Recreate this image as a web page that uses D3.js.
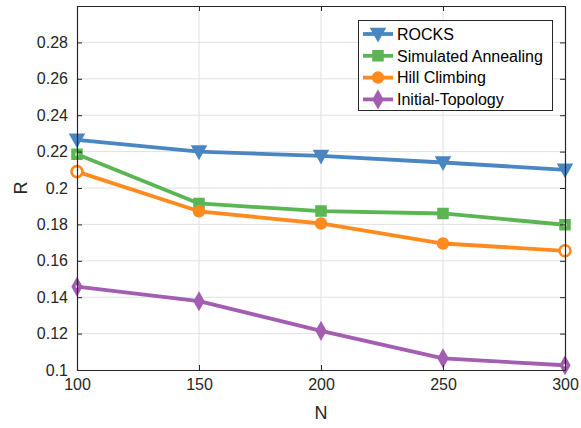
<!DOCTYPE html>
<html>
<head>
<meta charset="utf-8">
<script src="https://cdn.jsdelivr.net/npm/d3@7"></script>
<style>
  html, body { margin: 0; padding: 0; background: #fff; }
  svg { display: block; font-family: "Liberation Sans", Arial, sans-serif; }
</style>
</head>
<body>
<svg id="chart" width="581" height="428"></svg>
<script>
// N values on the x axis
const nValues = [100, 150, 200, 250, 300];

// R for each method
const rocks = [0.2265, 0.2200, 0.2176, 0.2140, 0.2100];
const simulatedAnnealing = [0.2185, 0.1915, 0.1873, 0.1860, 0.1798];
const hillClimbing = [0.2090, 0.1872, 0.1805, 0.1695, 0.1655];
const initialTopology = [0.1458, 0.1378, 0.1215, 0.1064, 0.1026];

const seriesNames = ["ROCKS", "Simulated Annealing", "Hill Climbing", "Initial-Topology"];
const xTicks = [100, 150, 200, 250, 300];
const yTicks = [0.1, 0.12, 0.14, 0.16, 0.18, 0.2, 0.22, 0.24, 0.26, 0.28];

const series = [
  { name: seriesNames[0], values: rocks, color: "#4a86c1", marker: "triangleDown" },
  { name: seriesNames[1], values: simulatedAnnealing, color: "#5bb553", marker: "square" },
  { name: seriesNames[2], values: hillClimbing, color: "#ff8a1e", marker: "circle" },
  { name: seriesNames[3], values: initialTopology, color: "#a35db1", marker: "diamond" }
];

const svg = d3.select("#chart");
const plotLeft = 77, plotRight = 565, plotTop = 6, plotBottom = 370;

const x = d3.scaleLinear().domain([100, 300]).range([plotLeft, plotRight]);
const y = d3.scaleLinear().domain([0.1, 0.3]).range([plotBottom, plotTop]);

// grid
const grid = svg.append("g");
grid.selectAll("line.gx").data(xTicks.slice(1, -1)).join("line")
  .attr("x1", d => x(d)).attr("x2", d => x(d))
  .attr("y1", plotTop).attr("y2", plotBottom)
  .attr("stroke", "#e1e1e1").attr("stroke-width", 1);
grid.selectAll("line.gy").data(yTicks.slice(1)).join("line")
  .attr("x1", plotLeft).attr("x2", plotRight)
  .attr("y1", d => y(d)).attr("y2", d => y(d))
  .attr("stroke", "#e1e1e1").attr("stroke-width", 1);

// markers
function markerPath(type) {
  switch (type) {
    case "triangleDown": return "M-7,-5.5L7,-5.5L0,7Z";
    case "square": return "M-5,-5L5,-5L5,5L-5,5Z";
    case "circle": return d3.symbol(d3.symbolCircle, 95)();
    case "diamond": return "M0,-8.5L4.8,0L0,8.5L-4.8,0Z";
  }
}

const line = d3.line().x((d, i) => x(nValues[i])).y(d => y(d));

series.forEach(s => {
  const g = svg.append("g");
  g.append("path").datum(s.values).attr("d", line)
    .attr("fill", "none").attr("stroke", s.color).attr("stroke-width", 3.8)
    .attr("stroke-linejoin", "round");
  const last = s.values.length - 1;
  const isEdge = i => i === 0 || i === last;
  g.selectAll("path.m").data(s.values).join("path").attr("class", "m")
    .attr("d", markerPath(s.marker))
    .attr("transform", (d, i) => `translate(${x(nValues[i])},${y(d)})`)
    .attr("fill", (d, i) => (s.marker === "circle" && isEdge(i)) ? "#fff" : s.color)
    .attr("stroke", s.color)
    .attr("stroke-width", (d, i) => (s.marker === "circle" && isEdge(i)) ? 2.6 : 1.5);
  // markers sitting on the axis box show a light centre
  if (s.marker === "square" || s.marker === "diamond") {
    g.selectAll("circle.c").data(s.values.filter((d, i) => isEdge(i))).join("circle")
      .attr("class", "c")
      .attr("cx", d => x(nValues[s.values.indexOf(d)]))
      .attr("cy", d => y(d))
      .attr("r", s.marker === "square" ? 2 : 1.4)
      .attr("fill", s.marker === "square" ? "#b9dfb5" : "#f4ecf6");
  }
});

// axes (ticks pointing inward, box on all four sides), drawn above the data
const tickLen = 5;
const axisColor = "#262626";
function styleAxis(g) {
  g.select(".domain").attr("stroke", axisColor).attr("stroke-width", 1.2);
  g.selectAll(".tick line").attr("stroke", axisColor).attr("stroke-width", 1);
  g.selectAll(".tick text").attr("fill", "#262626").attr("font-size", 16)
    .attr("font-family", "Liberation Sans, Arial, sans-serif");
}

const xAxis = svg.append("g").attr("transform", `translate(0,${plotBottom})`)
  .call(d3.axisBottom(x).tickValues(xTicks).tickSize(-tickLen).tickSizeOuter(0).tickPadding(9).tickFormat(d3.format("d")));
styleAxis(xAxis);

const xAxisTop = svg.append("g").attr("transform", `translate(0,${plotTop})`)
  .call(d3.axisTop(x).tickValues(xTicks).tickSize(-tickLen).tickSizeOuter(0).tickFormat(""));
styleAxis(xAxisTop);

const yAxis = svg.append("g").attr("transform", `translate(${plotLeft},0)`)
  .call(d3.axisLeft(y).tickValues(yTicks).tickSize(-tickLen).tickSizeOuter(0).tickPadding(9)
    .tickFormat(d => String(+d.toFixed(2))));
styleAxis(yAxis);

const yAxisRight = svg.append("g").attr("transform", `translate(${plotRight},0)`)
  .call(d3.axisRight(y).tickValues(yTicks).tickSize(-tickLen).tickSizeOuter(0).tickFormat(""));
styleAxis(yAxisRight);

// axis titles
svg.append("text").attr("x", (plotLeft + plotRight) / 2).attr("y", 419)
  .attr("text-anchor", "middle").attr("font-size", 18).attr("fill", "#262626").text("N");
svg.append("text").attr("transform", `translate(27,${(plotTop + plotBottom) / 2}) rotate(-90)`)
  .attr("text-anchor", "middle").attr("font-size", 18).attr("fill", "#262626").text("R");

// legend
const lg = svg.append("g");
lg.append("rect").attr("x", 358.5).attr("y", 20.5).attr("width", 194).attr("height", 90)
  .attr("fill", "#fff").attr("stroke", "#262626").attr("stroke-width", 1);
series.forEach((s, i) => {
  const cy = 34 + i * 21.8;
  lg.append("line").attr("x1", 363).attr("x2", 393).attr("y1", cy).attr("y2", cy)
    .attr("stroke", s.color).attr("stroke-width", 3.8);
  lg.append("path").attr("d", markerPath(s.marker))
    .attr("transform", `translate(378,${cy})`)
    .attr("fill", s.color).attr("stroke", s.color).attr("stroke-width", 1.5);
  lg.append("text").attr("x", 397).attr("y", cy).attr("dy", "0.36em")
    .attr("font-size", 16).attr("fill", "#000").text(s.name);
});
</script>
</body>
</html>
